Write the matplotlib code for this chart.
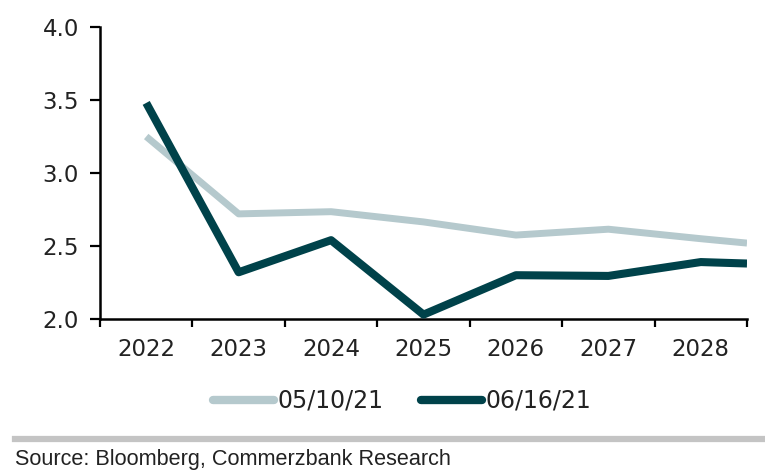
import matplotlib
matplotlib.use("Agg")
import matplotlib.pyplot as plt
import numpy as np

# Data
years = ["2022", "2023", "2024", "2025", "2026", "2027", "2028"]
x_pos = [0, 1, 2, 3, 4, 5, 6, 6.5]   # last point sits on the right edge
may_10 = [3.25, 2.72, 2.735, 2.665, 2.575, 2.615, 2.55, 2.52]
jun_16 = [3.48, 2.32, 2.54, 2.03, 2.30, 2.295, 2.39, 2.38]
labels = ["05/10/21", "06/16/21"]
light = "#b5c9cd"
dark = "#00424a"

fig = plt.figure(figsize=(7.65, 4.75), dpi=100)
ax = fig.add_axes([100 / 765, 1 - 319 / 475, 647 / 765, 292 / 475])

ax.plot(x_pos, may_10, color=light, lw=5.0, solid_capstyle="butt", label=labels[0], zorder=2)
ax.plot(x_pos, jun_16, color=dark, lw=5.8, solid_capstyle="butt", label=labels[1], zorder=3)

ax.set_xlim(-0.5, 6.5)
ax.set_ylim(2.0, 4.0)
ax.set_yticks(np.arange(2.0, 4.01, 0.5))
ax.set_yticklabels([f"{v:.1f}" for v in np.arange(2.0, 4.01, 0.5)])

# category boundaries get the tick marks, labels sit in the middle
ax.set_xticks(np.arange(-0.5, 6.6, 1.0))
ax.set_xticklabels([])
ax.set_xticks(np.arange(len(years)), minor=True)
ax.set_xticklabels(years, minor=True)
ax.tick_params(axis="x", which="major", direction="out", length=6, width=1.6, color="black")
ax.tick_params(axis="x", which="minor", length=0, pad=14, labelsize=16.5, labelcolor="#222222")
ax.tick_params(axis="y", direction="out", length=7, width=1.6, pad=8, labelsize=16.5, labelcolor="#222222")

for side in ["top", "right"]:
    ax.spines[side].set_visible(False)
for side in ["left", "bottom"]:
    ax.spines[side].set_linewidth(1.8)
    ax.spines[side].set_color("black")

leg = fig.legend(loc="center", bbox_to_anchor=(402 / 765, 1 - 401 / 475), ncol=2, frameon=False,
                 fontsize=17, handlelength=2.6, handletextpad=0.12, columnspacing=1.6)
for h in leg.get_lines():
    h.set_solid_capstyle("round")
    h.set_linewidth(6)
for t in leg.get_texts():
    t.set_color("#222222")

# grey separator and source line
fig.add_artist(plt.Line2D([15 / 765, 1.0], [1 - 439 / 475, 1 - 439 / 475], color="#c4c4c4", lw=4.5,
                          transform=fig.transFigure))
fig.text(15 / 765, 1 - 459 / 475, "Source: Bloomberg, Commerzbank Research", family="Liberation Sans",
         fontsize=15.6, color="#222222", va="center", ha="left")

fig.savefig("out.png", dpi=100)
